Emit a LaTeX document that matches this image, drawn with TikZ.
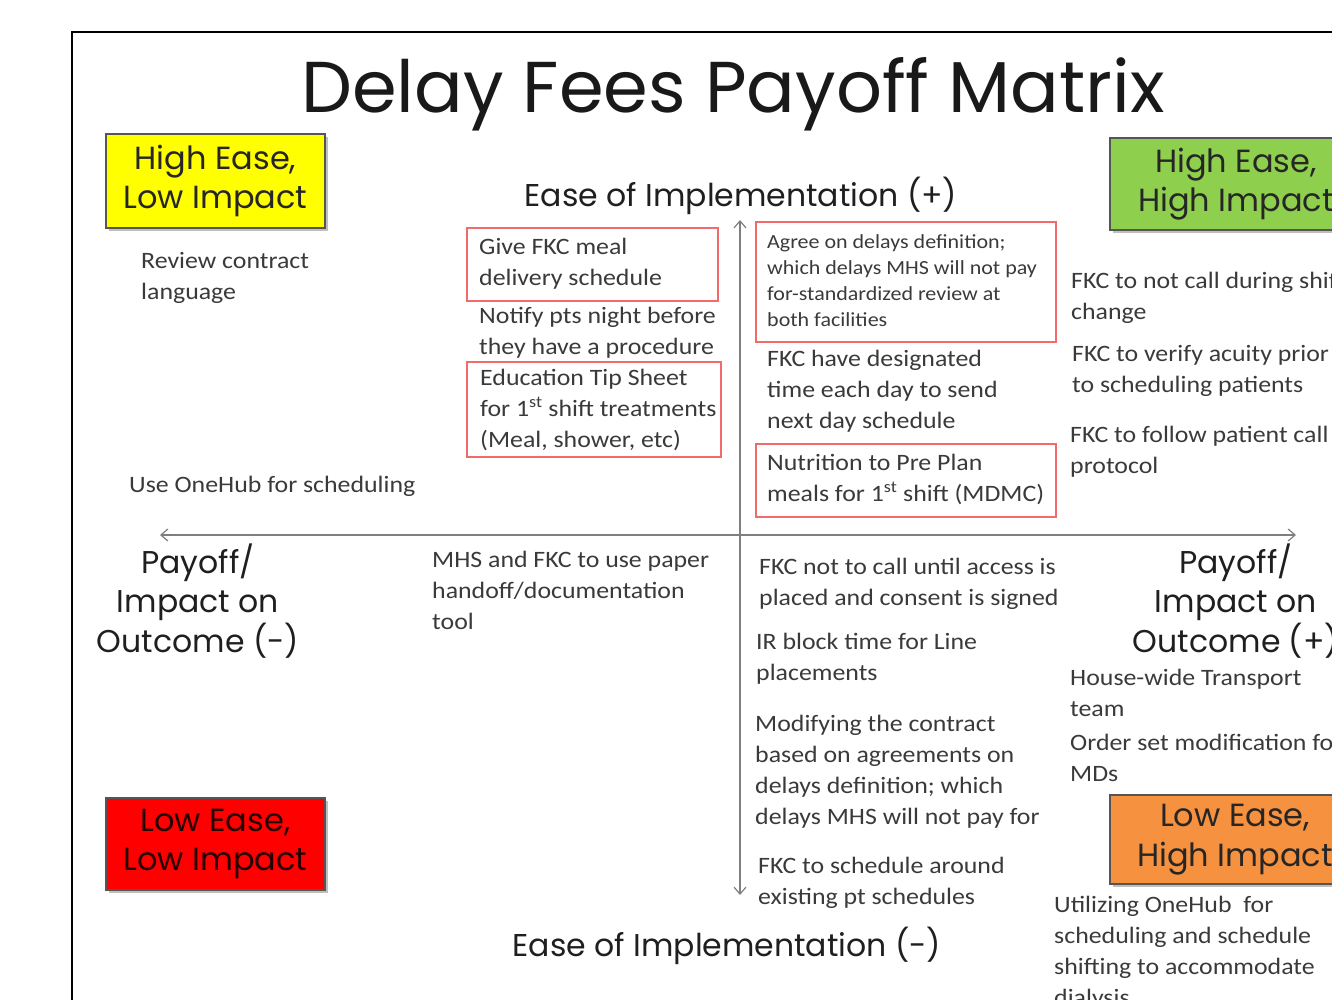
\documentclass[tikz,border=0pt]{standalone}
\usepackage{fontspec}
\setmainfont{Carlito}[FakeStretch=1.1]
\newfontfamily\headfont{Poppins}
\usetikzlibrary{arrows.meta}
\definecolor{bodygray}{HTML}{3A3A3A}
\definecolor{axisgray}{HTML}{7F7F7F}
\definecolor{frameRed}{HTML}{F26B6B}
\definecolor{qYellow}{HTML}{FFFF00}
\definecolor{qGreen}{HTML}{8FCF4E}
\definecolor{qRed}{HTML}{FF0000}
\definecolor{qOrange}{HTML}{F5913F}
\definecolor{boxEdge}{HTML}{555555}
\tikzset{
  item/.style={anchor=north west, inner sep=0pt, align=left, text=bodygray,
    font=\fontsize{23.5}{31}\selectfont},
  smallitem/.style={item, font=\fontsize{20}{26}\selectfont},
  heading/.style={inner sep=0pt, align=center, text=black!88,
    font=\headfont\fontsize{31.5}{39.5}\selectfont},
  quadrant/.style={draw=boxEdge, line width=1.3pt, inner sep=0pt, align=center,
    font=\headfont\fontsize{32}{39.5}\selectfont, text=black!85},
  redframe/.style={draw=frameRed, line width=1.5pt},
  axis/.style={draw=axisgray, line width=1.6pt, -{Straight Barb[length=7pt,width=12pt,line width=1.2pt]}},
}
\begin{document}
\begin{tikzpicture}[x=1pt,y=-1pt]
\useasboundingbox (0,0) rectangle (1332,999);
% slide frame
\draw[line width=1.5pt, black] (72,1010) -- (72,32) -- (1365,32);

% title
\node[heading, font=\headfont\fontsize{72}{76}\selectfont, text=black!90] (title) at (733,94) {Delay Fees Payoff Matrix};

% axes
\coordinate (ytop) at (740,220);
\coordinate (ybot) at (740,895);
\coordinate (xleft) at (160,535);
\coordinate (xright) at (1296,535);
\coordinate (origin) at (740,535);
\draw[axis] (origin) -- (ytop);
\draw[axis] (origin) -- (ybot);
\draw[axis] (origin) -- (xleft);
\draw[axis] (origin) -- (xright);

% axis labels
\node[heading] (easeplus) at (741,196) {Ease of Implementation (+)};
\node[heading] (easeminus) at (727,946) {Ease of Implementation (-)};
\node[heading] (payminus) at (198,601) {Payoff/\\Impact on\\Outcome (-)};
\node[heading] (payplus) at (1236,601) {Payoff/\\Impact on\\Outcome (+)};

% quadrant boxes (shadow first)
\fill[black!25] (109,137) rectangle (328,231);
\node[quadrant, fill=qYellow, minimum width=219pt, minimum height=94pt] (hela) at (215.5,181) {High Ease,\\Low Impact};
\fill[black!25] (1113,141) rectangle (1366,233);
\node[quadrant, fill=qGreen, minimum width=252pt, minimum height=92pt] (hehi) at (1236,184) {High Ease,\\High Impact};
\fill[black!25] (109,801) rectangle (328,893);
\node[quadrant, fill=qRed, minimum width=219pt, minimum height=92pt, text=black!85!red] (lela) at (215.5,844) {Low Ease,\\Low Impact};
\fill[black!25] (1113,798) rectangle (1364,887);
\node[quadrant, fill=qOrange, minimum width=250pt, minimum height=89pt] (lehi) at (1235,839.5) {Low Ease,\\High Impact};

% high ease, low impact quadrant
\node[item] (review) at (141,252) {Review contract\\language};
\node[item] (onehub) at (129,476) {Use OneHub for scheduling};
\draw[redframe] (467,228) rectangle (718,301);
\node[item] (meal) at (479,238) {Give FKC meal\\delivery schedule};
\node[item] (notify) at (479,307) {Notify pts night before\\they have a procedure};
\draw[redframe] (467,362) rectangle (721,457);
\node[item] (tipsheet) at (480,369) {Education Tip Sheet\\for 1\textsuperscript{st} shift treatments\\(Meal, shower, etc)};

% high ease, high impact quadrant
\draw[redframe] (756,222) rectangle (1056,342);
\node[smallitem] (agree) at (767,234) {Agree on delays definition;\\which delays MHS will not pay\\for-standardized review at\\both facilities};
\node[item] (designated) at (767,350) {FKC have designated\\time each day to send\\next day schedule};
\draw[redframe] (756,444) rectangle (1056,517);
\node[item] (nutrition) at (767,454) {Nutrition to Pre Plan\\meals for 1\textsuperscript{st} shift (MDMC)};
\node[item] (shiftchange) at (1071,272) {FKC to not call during shift\\change};
\node[item] (acuity) at (1072,345) {FKC to verify acuity prior\\to scheduling patients};
\node[item] (callproto) at (1070,426) {FKC to follow patient call\\protocol};

% low ease, low impact quadrant
\node[item] (paper) at (432,551) {MHS and FKC to use paper\\handoff/documentation\\tool};

% low ease, high impact quadrant
\node[item] (access) at (759,558) {FKC not to call until access is\\placed and consent is signed};
\node[item] (irblock) at (756,633) {IR block time for Line\\placements};
\node[item] (contract) at (755,715) {Modifying the contract\\based on agreements on\\delays definition; which\\delays MHS will not pay for};
\node[item] (ptsched) at (758,857) {FKC to schedule around\\existing pt schedules};
\node[item] (transport) at (1070,669) {House-wide Transport\\team};
\node[item] (orderset) at (1070,734) {Order set modification for\\MDs};
\node[item] (utilizing) at (1054,896) {Utilizing OneHub\ \ for\\scheduling and schedule\\shifting to accommodate\\dialysis};
\end{tikzpicture}
\end{document}
